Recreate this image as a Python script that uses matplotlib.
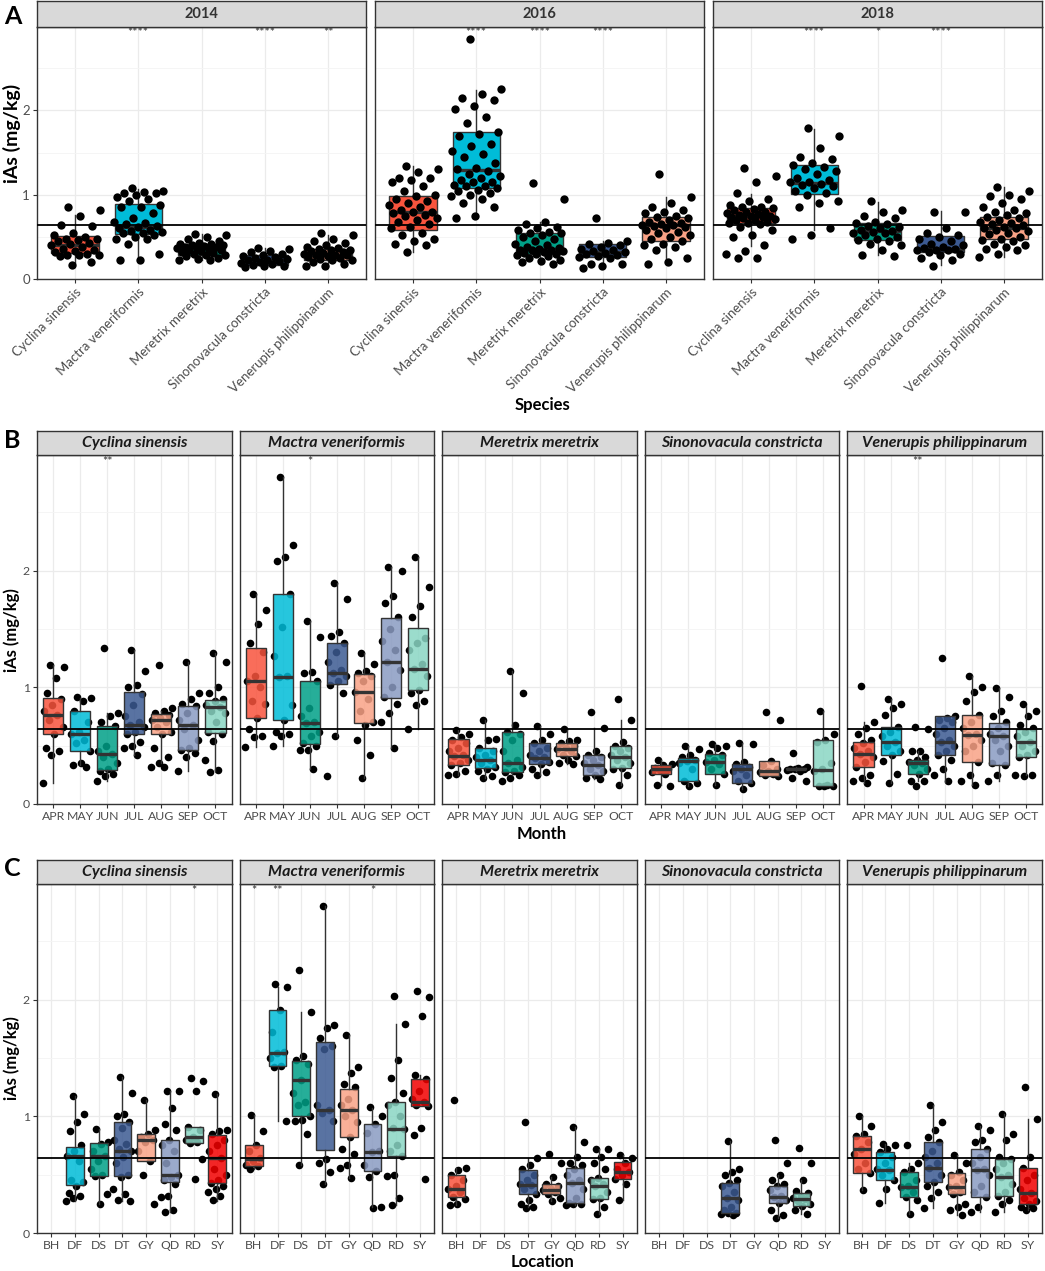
import matplotlib
matplotlib.use("Agg")
import matplotlib.pyplot as plt
import numpy as np
from matplotlib.colors import to_rgba

plt.rcParams['font.family'] = ['Lato', 'DejaVu Sans']

species = ["Cyclina sinensis", "Mactra veneriformis", "Meretrix meretrix",
           "Sinonovacula constricta", "Venerupis philippinarum"]
years = ["2014", "2016", "2018"]
months = ["APR", "MAY", "JUN", "JUL", "AUG", "SEP", "OCT"]
locations = ["BH", "DF", "DS", "DT", "GY", "QD", "RD", "SY"]
ref_level = 0.64

group_colors = ["#F8543D", "#00BCD8", "#00A087", "#3C5A92", "#F9A286",
                "#8A9BC2", "#8AD6C4", "#F20000"]

# box stats per group: (whislo, q1, median, q3, whishi)
A_boxes = [
    [(0.19, 0.31, 0.40, 0.51, 0.76), (0.23, 0.53, 0.62, 0.89, 1.07), (0.22, 0.29, 0.37, 0.42, 0.53),
     (0.14, 0.17, 0.22, 0.28, 0.37), (0.15, 0.23, 0.29, 0.36, 0.52)],
    [(0.32, 0.58, 0.79, 0.98, 1.34), (0.72, 1.08, 1.29, 1.74, 2.24), (0.18, 0.30, 0.36, 0.55, 0.68),
     (0.13, 0.26, 0.32, 0.42, 0.45), (0.20, 0.45, 0.64, 0.74, 0.97)],
    [(0.39, 0.66, 0.75, 0.84, 1.01), (0.58, 1.01, 1.14, 1.35, 1.78), (0.28, 0.46, 0.57, 0.67, 0.91),
     (0.17, 0.32, 0.36, 0.51, 0.81), (0.26, 0.48, 0.60, 0.74, 1.09)],
]
A_points = [
    [[0.85, 0.82, 0.75, 0.64, 0.63, 0.55, 0.52, 0.50, 0.48, 0.48, 0.46, 0.45, 0.43, 0.42, 0.40,
      0.38, 0.36, 0.35, 0.33, 0.32, 0.30, 0.29, 0.28, 0.28, 0.27, 0.20, 0.17],
     [1.08, 1.05, 1.03, 1.02, 1.02, 1.00, 0.97, 0.95, 0.92, 0.88, 0.85, 0.85, 0.78, 0.72, 0.68,
      0.66, 0.65, 0.63, 0.62, 0.60, 0.58, 0.57, 0.56, 0.55, 0.54, 0.52, 0.50, 0.48, 0.47, 0.42,
      0.30, 0.23, 0.22],
     [0.53, 0.52, 0.50, 0.48, 0.45, 0.43, 0.42, 0.41, 0.40, 0.40, 0.39, 0.38, 0.38, 0.37, 0.37,
      0.36, 0.35, 0.34, 0.33, 0.32, 0.31, 0.30, 0.29, 0.28, 0.27, 0.25, 0.24, 0.23, 0.22],
     [0.37, 0.36, 0.33, 0.32, 0.30, 0.28, 0.27, 0.26, 0.25, 0.24, 0.23, 0.22, 0.21, 0.20, 0.19,
      0.18, 0.17, 0.16, 0.15, 0.14],
     [0.55, 0.52, 0.48, 0.45, 0.43, 0.40, 0.38, 0.37, 0.36, 0.35, 0.34, 0.33, 0.32, 0.31, 0.30,
      0.29, 0.28, 0.28, 0.27, 0.26, 0.25, 0.24, 0.23, 0.22, 0.20, 0.18, 0.16, 0.15]],
    [[1.34, 1.30, 1.27, 1.20, 1.20, 1.18, 1.15, 1.10, 1.05, 1.00, 0.98, 0.95, 0.93, 0.90, 0.88,
      0.85, 0.82, 0.80, 0.80, 0.78, 0.76, 0.75, 0.72, 0.70, 0.68, 0.65, 0.62, 0.60, 0.55, 0.52,
      0.48, 0.45, 0.42, 0.40, 0.32],
     [2.85, 2.25, 2.20, 2.15, 2.12, 2.05, 2.02, 1.92, 1.85, 1.75, 1.72, 1.70, 1.60, 1.58, 1.52,
      1.48, 1.45, 1.38, 1.32, 1.30, 1.28, 1.25, 1.22, 1.20, 1.18, 1.15, 1.15, 1.12, 1.10, 1.10,
      1.08, 1.06, 1.05, 1.02, 1.00, 0.98, 0.95, 0.90, 0.85, 0.75, 0.72],
     [1.14, 0.95, 0.68, 0.65, 0.62, 0.60, 0.58, 0.56, 0.55, 0.54, 0.52, 0.50, 0.48, 0.45, 0.42,
      0.40, 0.38, 0.37, 0.36, 0.35, 0.35, 0.34, 0.33, 0.32, 0.31, 0.30, 0.30, 0.28, 0.27, 0.25,
      0.23, 0.21, 0.20, 0.18],
     [0.72, 0.45, 0.43, 0.42, 0.40, 0.38, 0.36, 0.35, 0.33, 0.32, 0.31, 0.30, 0.28, 0.27, 0.26,
      0.25, 0.18, 0.18, 0.16, 0.13],
     [1.25, 0.97, 0.90, 0.85, 0.82, 0.80, 0.78, 0.75, 0.74, 0.72, 0.70, 0.68, 0.66, 0.65, 0.64,
      0.64, 0.63, 0.62, 0.60, 0.58, 0.56, 0.55, 0.52, 0.50, 0.48, 0.45, 0.42, 0.40, 0.38, 0.35,
      0.25, 0.20, 0.18]],
    [[1.32, 1.22, 1.15, 1.02, 0.95, 0.92, 0.88, 0.86, 0.85, 0.84, 0.83, 0.82, 0.80, 0.80, 0.78,
      0.77, 0.76, 0.75, 0.75, 0.74, 0.73, 0.72, 0.71, 0.70, 0.70, 0.68, 0.67, 0.66, 0.65, 0.62,
      0.58, 0.52, 0.50, 0.40, 0.33, 0.30, 0.25, 0.25],
     [1.79, 1.70, 1.55, 1.45, 1.42, 1.38, 1.35, 1.33, 1.30, 1.28, 1.25, 1.20, 1.18, 1.15, 1.15,
      1.13, 1.12, 1.10, 1.08, 1.05, 1.02, 1.00, 0.92, 0.90, 0.85, 0.60, 0.52, 0.48],
     [0.92, 0.82, 0.80, 0.75, 0.72, 0.68, 0.66, 0.65, 0.63, 0.62, 0.60, 0.58, 0.57, 0.56, 0.55,
      0.54, 0.52, 0.50, 0.48, 0.46, 0.45, 0.42, 0.40, 0.35, 0.28, 0.27],
     [0.80, 0.80, 0.60, 0.55, 0.52, 0.50, 0.48, 0.45, 0.42, 0.40, 0.38, 0.37, 0.36, 0.35, 0.35,
      0.34, 0.32, 0.30, 0.28, 0.25, 0.22, 0.15],
     [1.09, 1.05, 1.00, 0.98, 0.95, 0.90, 0.85, 0.82, 0.80, 0.78, 0.76, 0.74, 0.72, 0.70, 0.68,
      0.66, 0.65, 0.64, 0.62, 0.60, 0.60, 0.58, 0.57, 0.55, 0.53, 0.50, 0.48, 0.46, 0.45, 0.42,
      0.40, 0.38, 0.36, 0.35, 0.30, 0.26]],
]
A_stars = [["", "****", "", "****", "**"],
           ["", "****", "****", "****", ""],
           ["", "****", "*", "****", ""]]

B_boxes = [
    [(0.18, 0.60, 0.76, 0.91, 1.19), (0.33, 0.45, 0.60, 0.80, 0.91), (0.20, 0.29, 0.43, 0.67, 0.78),
     (0.42, 0.60, 0.68, 0.96, 1.32), (0.35, 0.60, 0.72, 0.77, 0.80), (0.28, 0.46, 0.68, 0.84, 1.22),
     (0.28, 0.61, 0.83, 0.89, 1.29)],
    [(0.49, 0.74, 1.05, 1.34, 1.80), (0.50, 0.72, 1.09, 1.80, 2.80), (0.30, 0.51, 0.69, 1.05, 1.57),
     (0.58, 1.03, 1.12, 1.38, 1.89), (0.22, 0.69, 0.96, 1.11, 1.29), (0.48, 0.91, 1.22, 1.59, 2.03),
     (0.64, 0.98, 1.16, 1.51, 2.12)],
    [(0.25, 0.33, 0.41, 0.56, 0.63), (0.22, 0.31, 0.38, 0.48, 0.72), (0.25, 0.27, 0.35, 0.62, 1.14),
     (0.25, 0.34, 0.39, 0.52, 0.67), (0.34, 0.41, 0.47, 0.52, 0.64), (0.21, 0.25, 0.33, 0.42, 0.65),
     (0.16, 0.31, 0.40, 0.50, 0.72)],
    [(0.16, 0.26, 0.30, 0.33, 0.38), (0.15, 0.20, 0.37, 0.39, 0.50), (0.16, 0.26, 0.36, 0.43, 0.51),
     (0.13, 0.18, 0.30, 0.34, 0.52), (0.24, 0.24, 0.28, 0.37, 0.37), (0.28, 0.30, 0.30, 0.31, 0.32),
     (0.15, 0.15, 0.29, 0.55, 0.80)],
    [(0.18, 0.32, 0.43, 0.53, 0.70), (0.18, 0.42, 0.53, 0.66, 0.90), (0.20, 0.26, 0.35, 0.38, 0.45),
     (0.19, 0.42, 0.53, 0.75, 0.75), (0.16, 0.36, 0.59, 0.76, 1.10), (0.20, 0.33, 0.58, 0.69, 0.99),
     (0.25, 0.40, 0.53, 0.64, 0.84)],
]
B_points = [
    [[1.19, 1.17, 1.08, 0.95, 0.90, 0.85, 0.80, 0.76, 0.72, 0.66, 0.60, 0.48, 0.45, 0.42, 0.18],
     [0.92, 0.91, 0.88, 0.80, 0.70, 0.62, 0.60, 0.55, 0.52, 0.45, 0.35, 0.33, 0.32],
     [1.34, 0.78, 0.75, 0.70, 0.67, 0.50, 0.45, 0.43, 0.40, 0.35, 0.30, 0.28, 0.26, 0.24, 0.20],
     [1.32, 1.14, 1.02, 1.00, 0.94, 0.85, 0.75, 0.70, 0.68, 0.66, 0.62, 0.60, 0.53, 0.50, 0.48, 0.42],
     [1.19, 0.82, 0.80, 0.78, 0.76, 0.74, 0.72, 0.70, 0.66, 0.62, 0.60, 0.48, 0.40, 0.35, 0.32, 0.32],
     [1.22, 0.95, 0.90, 0.86, 0.84, 0.78, 0.72, 0.68, 0.64, 0.55, 0.48, 0.46, 0.44, 0.40, 0.28],
     [1.29, 1.22, 1.00, 0.95, 0.90, 0.88, 0.85, 0.83, 0.80, 0.78, 0.70, 0.62, 0.60, 0.54, 0.38, 0.29, 0.27]],
    [[1.80, 1.66, 1.54, 1.38, 1.30, 1.10, 1.05, 1.00, 0.88, 0.86, 0.74, 0.64, 0.58, 0.57, 0.49],
     [2.80, 2.22, 2.12, 2.08, 1.80, 1.52, 1.27, 1.10, 1.09, 0.85, 0.72, 0.62, 0.60, 0.58, 0.50],
     [1.57, 1.43, 1.13, 1.12, 1.05, 0.82, 0.75, 0.70, 0.69, 0.62, 0.58, 0.52, 0.50, 0.46, 0.46, 0.30],
     [1.89, 1.76, 1.47, 1.44, 1.38, 1.30, 1.22, 1.15, 1.12, 1.10, 1.05, 1.02, 0.95, 0.58, 0.24],
     [1.29, 1.20, 1.14, 1.12, 1.10, 1.05, 0.96, 0.90, 0.80, 0.70, 0.68, 0.55, 0.42, 0.22],
     [2.03, 2.00, 1.78, 1.72, 1.60, 1.50, 1.40, 1.32, 1.22, 1.15, 1.00, 0.92, 0.86, 0.78, 0.70, 0.48],
     [2.12, 1.86, 1.70, 1.60, 1.42, 1.38, 1.32, 1.20, 1.16, 1.10, 0.98, 0.95, 0.88, 0.85, 0.64]],
    [[0.63, 0.60, 0.57, 0.55, 0.52, 0.48, 0.45, 0.42, 0.41, 0.38, 0.35, 0.33, 0.28, 0.26, 0.25],
     [0.72, 0.56, 0.55, 0.48, 0.45, 0.42, 0.40, 0.38, 0.35, 0.32, 0.30, 0.28, 0.24, 0.22],
     [1.14, 0.95, 0.68, 0.62, 0.60, 0.55, 0.45, 0.38, 0.35, 0.32, 0.28, 0.27, 0.25, 0.22, 0.20],
     [0.67, 0.60, 0.55, 0.52, 0.48, 0.45, 0.42, 0.40, 0.39, 0.36, 0.34, 0.30, 0.27, 0.25],
     [0.64, 0.55, 0.54, 0.52, 0.50, 0.48, 0.47, 0.45, 0.42, 0.41, 0.38, 0.35, 0.34],
     [0.79, 0.65, 0.45, 0.42, 0.40, 0.38, 0.35, 0.33, 0.30, 0.28, 0.25, 0.22, 0.21],
     [0.90, 0.72, 0.53, 0.50, 0.48, 0.45, 0.42, 0.40, 0.38, 0.35, 0.31, 0.30, 0.25, 0.16]],
    [[0.38, 0.34, 0.33, 0.31, 0.30, 0.29, 0.27, 0.26, 0.16, 0.15],
     [0.50, 0.47, 0.42, 0.40, 0.38, 0.37, 0.35, 0.30, 0.20, 0.18, 0.15],
     [0.51, 0.50, 0.48, 0.44, 0.42, 0.38, 0.36, 0.34, 0.30, 0.26, 0.16],
     [0.52, 0.51, 0.36, 0.34, 0.32, 0.30, 0.28, 0.25, 0.20, 0.18, 0.13],
     [0.79, 0.72, 0.37, 0.33, 0.30, 0.28, 0.27, 0.26, 0.25, 0.24],
     [0.44, 0.32, 0.31, 0.30, 0.30, 0.30, 0.29, 0.28, 0.22, 0.20],
     [0.80, 0.60, 0.55, 0.53, 0.35, 0.30, 0.28, 0.16, 0.15, 0.15, 0.15]],
    [[1.01, 0.70, 0.65, 0.60, 0.55, 0.52, 0.48, 0.45, 0.43, 0.40, 0.36, 0.32, 0.25, 0.22, 0.20, 0.18],
     [0.90, 0.86, 0.82, 0.76, 0.66, 0.62, 0.58, 0.53, 0.50, 0.45, 0.42, 0.37, 0.26, 0.18],
     [0.66, 0.64, 0.45, 0.45, 0.40, 0.38, 0.36, 0.35, 0.33, 0.30, 0.26, 0.20, 0.20, 0.15],
     [1.25, 0.75, 0.74, 0.72, 0.70, 0.65, 0.60, 0.55, 0.53, 0.50, 0.45, 0.42, 0.38, 0.30, 0.25, 0.20],
     [1.10, 1.00, 0.96, 0.88, 0.76, 0.70, 0.65, 0.60, 0.59, 0.55, 0.50, 0.45, 0.36, 0.25, 0.20, 0.16],
     [0.99, 0.92, 0.80, 0.75, 0.70, 0.65, 0.60, 0.58, 0.55, 0.50, 0.45, 0.35, 0.33, 0.25, 0.20],
     [0.86, 0.80, 0.75, 0.68, 0.65, 0.62, 0.58, 0.53, 0.50, 0.45, 0.42, 0.40, 0.25, 0.24, 0.25]],
]
B_stars = [["", "", "**", "", "", "", ""],
           ["", "", "*", "", "", "", ""],
           [""] * 7,
           [""] * 7,
           ["", "", "**", "", "", "", ""]]

C_boxes = [
    [None, (0.27, 0.41, 0.66, 0.74, 1.17), (0.25, 0.49, 0.66, 0.77, 0.89), (0.27, 0.49, 0.70, 0.95, 1.34),
     (0.62, 0.62, 0.80, 0.85, 1.14), (0.18, 0.44, 0.50, 0.80, 1.22), (0.77, 0.77, 0.82, 0.91, 0.91),
     (0.27, 0.43, 0.64, 0.84, 1.19)],
    [(0.55, 0.57, 0.63, 0.75, 1.01), (0.96, 1.43, 1.54, 1.91, 2.11), (0.58, 1.00, 1.31, 1.47, 1.89),
     (0.42, 0.71, 1.05, 1.64, 2.80), (0.47, 0.82, 1.05, 1.23, 1.70), (0.22, 0.53, 0.69, 0.93, 1.07),
     (0.24, 0.66, 0.89, 1.12, 1.79), (1.09, 1.09, 1.12, 1.32, 1.35)],
    [(0.24, 0.31, 0.38, 0.50, 0.56), None, None, (0.22, 0.33, 0.41, 0.54, 0.64),
     (0.27, 0.33, 0.37, 0.42, 0.48), (0.24, 0.26, 0.43, 0.56, 0.91), (0.16, 0.29, 0.40, 0.47, 0.72),
     (0.28, 0.46, 0.52, 0.61, 0.67)],
    [None, None, None, (0.15, 0.17, 0.30, 0.43, 0.79), None, (0.13, 0.26, 0.31, 0.40, 0.50),
     (0.16, 0.23, 0.29, 0.34, 0.45), None],
    [(0.37, 0.51, 0.72, 0.83, 1.00), (0.26, 0.45, 0.54, 0.69, 0.76), (0.16, 0.31, 0.39, 0.52, 0.60),
     (0.21, 0.44, 0.56, 0.78, 1.10), (0.15, 0.33, 0.39, 0.51, 0.67), (0.18, 0.31, 0.54, 0.72, 0.92),
     (0.18, 0.32, 0.48, 0.63, 1.02), (0.20, 0.25, 0.34, 0.56, 0.98)],
]
C_points = [
    [[],
     [1.17, 1.02, 0.95, 0.87, 0.75, 0.70, 0.66, 0.62, 0.45, 0.44, 0.40, 0.34, 0.32, 0.30, 0.27],
     [0.89, 0.78, 0.76, 0.70, 0.66, 0.62, 0.55, 0.50, 0.49, 0.33, 0.25],
     [1.34, 1.20, 1.02, 1.00, 0.95, 0.90, 0.80, 0.76, 0.72, 0.70, 0.65, 0.60, 0.50, 0.48, 0.38, 0.33, 0.28, 0.27],
     [1.14, 0.88, 0.85, 0.82, 0.80, 0.78, 0.70, 0.62, 0.50, 0.25],
     [1.22, 1.22, 1.07, 0.93, 0.88, 0.80, 0.75, 0.70, 0.60, 0.50, 0.48, 0.45, 0.42, 0.32, 0.31, 0.20, 0.18],
     [1.33, 1.30, 1.22, 0.91, 0.88, 0.82, 0.80, 0.78, 0.77, 0.63, 0.46],
     [1.19, 0.88, 0.87, 0.85, 0.80, 0.75, 0.70, 0.64, 0.55, 0.50, 0.45, 0.43, 0.40, 0.38, 0.35, 0.32, 0.28]],
    [[1.01, 0.87, 0.75, 0.70, 0.64, 0.62, 0.58, 0.57, 0.55],
     [2.13, 2.11, 1.91, 1.72, 1.55, 1.54, 1.50, 1.43, 1.42, 0.96],
     [2.25, 1.89, 1.52, 1.48, 1.45, 1.31, 1.20, 1.12, 1.10, 1.00, 0.97, 0.96, 0.85, 0.58],
     [2.80, 1.78, 1.76, 1.67, 1.60, 1.58, 1.10, 1.05, 1.03, 0.96, 0.63, 0.60, 0.52, 0.42],
     [1.70, 1.42, 1.37, 1.28, 1.25, 1.15, 1.10, 1.05, 1.00, 0.95, 0.82, 0.72, 0.68, 0.58, 0.56, 0.47],
     [1.08, 1.00, 0.93, 0.86, 0.70, 0.69, 0.58, 0.53, 0.48, 0.22, 0.21],
     [2.03, 1.79, 1.48, 1.33, 1.20, 1.12, 1.10, 1.00, 0.90, 0.89, 0.75, 0.70, 0.66, 0.50, 0.49, 0.30, 0.24],
     [2.07, 2.02, 1.86, 1.35, 1.32, 1.22, 1.15, 1.12, 1.10, 1.09, 0.90, 0.84, 0.46]],
    [[1.14, 0.56, 0.54, 0.50, 0.45, 0.40, 0.38, 0.35, 0.31, 0.29, 0.25, 0.24],
     [], [],
     [0.95, 0.64, 0.58, 0.55, 0.50, 0.45, 0.42, 0.41, 0.38, 0.33, 0.28, 0.25, 0.22, 0.21],
     [0.68, 0.60, 0.48, 0.42, 0.40, 0.38, 0.37, 0.35, 0.33, 0.30, 0.27],
     [0.91, 0.78, 0.65, 0.60, 0.58, 0.55, 0.50, 0.45, 0.43, 0.38, 0.30, 0.26, 0.25, 0.25, 0.24],
     [0.72, 0.72, 0.65, 0.60, 0.55, 0.47, 0.45, 0.42, 0.40, 0.35, 0.30, 0.29, 0.22, 0.16],
     [0.67, 0.64, 0.60, 0.55, 0.52, 0.50, 0.46, 0.42, 0.28]],
    [[], [], [],
     [0.79, 0.55, 0.52, 0.50, 0.45, 0.43, 0.40, 0.35, 0.30, 0.28, 0.22, 0.20, 0.17, 0.17, 0.16, 0.15],
     [],
     [0.80, 0.60, 0.50, 0.45, 0.42, 0.40, 0.37, 0.32, 0.31, 0.28, 0.26, 0.20, 0.15, 0.13],
     [0.73, 0.60, 0.45, 0.36, 0.34, 0.32, 0.30, 0.29, 0.27, 0.25, 0.23, 0.20, 0.16],
     []],
    [[1.00, 0.92, 0.85, 0.83, 0.78, 0.72, 0.68, 0.60, 0.55, 0.51, 0.37],
     [0.76, 0.75, 0.72, 0.69, 0.65, 0.60, 0.55, 0.54, 0.50, 0.45, 0.38, 0.26],
     [0.75, 0.60, 0.55, 0.52, 0.45, 0.40, 0.39, 0.35, 0.31, 0.28, 0.16],
     [1.10, 0.95, 0.88, 0.82, 0.78, 0.70, 0.65, 0.60, 0.56, 0.50, 0.44, 0.40, 0.35, 0.30, 0.21],
     [0.67, 0.60, 0.52, 0.50, 0.45, 0.40, 0.39, 0.35, 0.33, 0.25, 0.22, 0.20, 0.15],
     [0.92, 0.88, 0.80, 0.78, 0.72, 0.65, 0.60, 0.55, 0.54, 0.50, 0.40, 0.35, 0.31, 0.22, 0.18],
     [1.02, 0.85, 0.80, 0.65, 0.63, 0.60, 0.55, 0.50, 0.48, 0.42, 0.35, 0.32, 0.28, 0.25, 0.18],
     [1.25, 0.98, 0.65, 0.56, 0.50, 0.45, 0.38, 0.34, 0.30, 0.27, 0.25, 0.22, 0.21, 0.20]],
]
C_stars = [["", "", "", "", "", "", "*", ""],
           ["*", "**", "", "", "", "*", "", ""],
           [""] * 8, [""] * 8, [""] * 8]

W, H = 1045, 1271
DARK = "#333333"
fig = plt.figure(figsize=(W / 100, H / 100), dpi=100)


def px_axes(l, t, r, b, **kw):
    return fig.add_axes([l / W, 1 - b / H, (r - l) / W, (b - t) / H], **kw)


def jitter(n, width):
    # deterministic spread of the points across the box width
    k = np.arange(n)
    return ((k * 0.618034 + 0.37) % 1.0 - 0.5) * 2 * width


def draw_panel(ax, boxes, points, labels, stars, pts_on_top, box_alpha, psize, show_y, ticksize):
    n = len(labels)
    pos = np.arange(1, n + 1)

    stats, spos, scol = [], [], []
    for i, b in enumerate(boxes):
        if b is None:
            continue
        lo, q1, med, q3, hi = b
        stats.append(dict(whislo=lo, q1=q1, med=med, q3=q3, whishi=hi, fliers=[]))
        spos.append(pos[i])
        scol.append(group_colors[i])
    pz = 4 if pts_on_top else 2
    bp = ax.bxp(stats, positions=spos, widths=0.75, patch_artist=True, showfliers=False,
                showcaps=False, manage_ticks=False,
                boxprops=dict(edgecolor=DARK, linewidth=1.0),
                medianprops=dict(color=DARK, linewidth=2.4),
                whiskerprops=dict(color=DARK, linewidth=1.0), zorder=3)
    for patch, c in zip(bp["boxes"], scol):
        patch.set_facecolor(to_rgba(c, box_alpha))
    for i, vals in enumerate(points):
        if len(vals) == 0:
            continue
        xs = pos[i] + jitter(len(vals), 0.4)
        ax.scatter(xs, vals, s=psize, color="black", lw=0, zorder=pz)
    ax.axhline(ref_level, color="black", lw=1.3, zorder=5)
    for i, st in enumerate(stars):
        if st:
            ax.text(pos[i], 2.985, st, ha="center", va="top", fontsize=9, color=DARK, zorder=6)

    ax.set_xlim(0.4, n + 0.6)
    ax.set_ylim(0, 2.99)
    ax.set_yticks([0, 1, 2])
    ax.set_yticks([0.5, 1.5, 2.5], minor=True)
    ax.set_xticks(pos)
    ax.set_xticklabels(labels)
    ax.grid(which="major", color="#EBEBEB", lw=0.9, zorder=0)
    ax.grid(which="minor", axis="y", color="#F4F4F4", lw=0.6, zorder=0)
    ax.set_axisbelow(True)
    for s in ax.spines.values():
        s.set_color(DARK)
        s.set_linewidth(1.0)
    ax.tick_params(which="major", length=3, color=DARK, labelsize=ticksize, labelcolor="#4D4D4D", pad=2)
    ax.tick_params(which="minor", length=0)
    if not show_y:
        ax.tick_params(axis="y", labelleft=False, length=0)


def strip(l, t, r, b, text, style):
    sa = px_axes(l, t, r, b)
    sa.set_facecolor("#D9D9D9")
    sa.set_xticks([])
    sa.set_yticks([])
    for s in sa.spines.values():
        s.set_color(DARK)
        s.set_linewidth(1.0)
    if style == "year":
        sa.text(0.5, 0.5, text, ha="center", va="center", fontsize=10.5, fontweight="bold",
                color=DARK, transform=sa.transAxes)
    else:
        sa.text(0.5, 0.5, text, ha="center", va="center", fontsize=11.5, fontweight="bold",
                fontstyle="italic", color="#1A1A1A", transform=sa.transAxes)


# row A: by year
a_left, a_w, a_gap = 37, 329, 9
for j, yr in enumerate(years):
    l = a_left + j * (a_w + a_gap)
    ax = px_axes(l, 27, l + a_w, 279)
    draw_panel(ax, A_boxes[j], A_points[j], species, A_stars[j], True, 1.0, 36, j == 0, 9.5)
    for t in ax.get_xticklabels():
        t.set_rotation(45)
        t.set_ha("right")
        t.set_rotation_mode("anchor")
    strip(l, 1, l + a_w, 27, yr, "year")

# rows B and C: by species
bc_w, bc_gap = 194.6, 8
rows = [(B_boxes, B_points, months, B_stars, 431, 455, 804),
        (C_boxes, C_points, locations, C_stars, 860, 884, 1233)]
for boxes, points, labels, stars, st_top, top, bottom in rows:
    for j, sp in enumerate(species):
        l = a_left + j * (bc_w + bc_gap)
        ax = px_axes(l, top, l + bc_w, bottom)
        draw_panel(ax, boxes[j], points[j], labels, stars[j], False, 0.85, 30, j == 0, 8.8)
        strip(l, st_top, l + bc_w, top, sp, "species")

# axis titles and panel letters
for txt, y in [("Species", 405), ("Month", 834), ("Location", 1262)]:
    fig.text(542 / W, 1 - y / H, txt, ha="center", va="center", fontsize=12, fontweight="bold")
for y, fs in [(133, 14), (630, 12), (1058, 12)]:
    fig.text(12 / W, 1 - y / H, "iAs (mg/kg)", rotation=90, ha="center", va="center",
             fontsize=fs, fontweight="bold")
for txt, y in [("A", 16), ("B", 440), ("C", 868)]:
    fig.text(4 / W, 1 - y / H, txt, ha="left", va="center", fontsize=18, fontweight="bold")

fig.savefig("out.png", dpi=100)
